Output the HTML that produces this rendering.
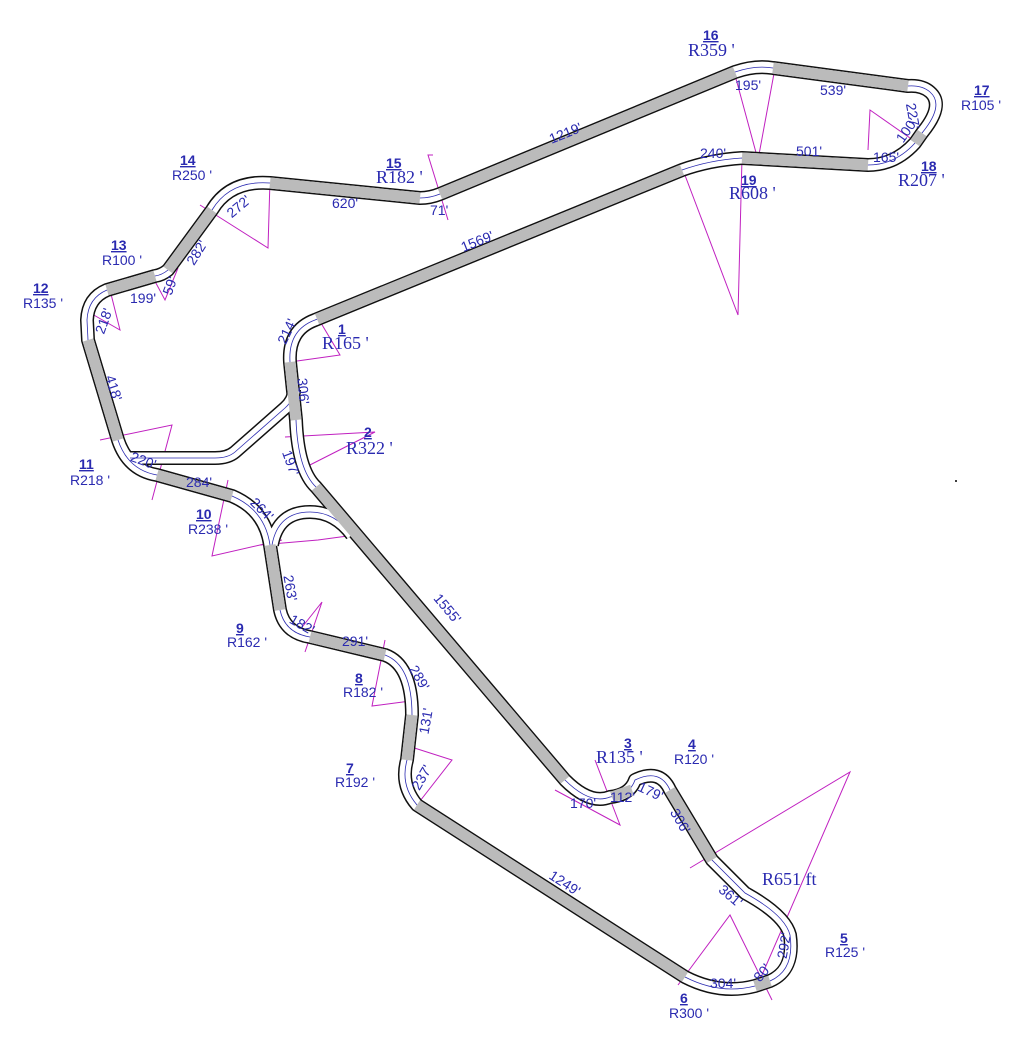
<!DOCTYPE html>
<html><head><meta charset="utf-8"><style>
html,body{margin:0;padding:0;background:#fff}
svg{display:block}
text{font-family:"Liberation Sans",sans-serif;fill:#2a2ab0;font-size:14px}
.s{font-family:"Liberation Serif",serif;font-size:18px}
.n{font-weight:bold;font-size:14px;text-decoration:underline}
</style></head><body>
<svg width="1024" height="1040" viewBox="0 0 1024 1040" xmlns="http://www.w3.org/2000/svg">
<g stroke="#c020c0" stroke-width="1" fill="none">
<polyline points="318,318 340,355 290,362"/>
<polyline points="285,437 375,432 300,470"/>
<polyline points="100,440 172,425 152,500"/>
<polyline points="228,480 212,556 282,540"/>
<polyline points="260,545 318,540 355,535"/>
<polyline points="295,636 322,602 305,652"/>
<polyline points="385,640 372,706 418,700"/>
<polyline points="405,745 452,760 413,810"/>
<polyline points="595,760 620,825 555,790"/>
<polyline points="690,868 850,772 762,975"/>
<polyline points="678,985 730,915 772,1000"/>
<polyline points="683,170 738,315 742,158"/>
<polyline points="735,75 758,160 775,68"/>
<polyline points="868,150 870,110 920,145"/>
<polyline points="433,155 428,155 448,220"/>
<polyline points="200,205 268,248 270,180"/>
<polyline points="150,272 165,300 178,268"/>
<polyline points="85,310 120,330 110,290"/>
</g>
<g fill="none" stroke-linejoin="round" stroke="#111" stroke-width="14">
<path d="M315,320 L682,170 Q710,160 742,158 L868,165 Q895,165 915,143 L922,133 Q945,105 930,92 Q922,85 908,86 L773,68 Q755,65 735,72 L440,194 Q430,198 420,198 L270,183 Q230,180 212,210 L168,270 Q162,275 155,276 L107,290 Q88,298 87,320 L88,340 L118,440 Q128,470 157,475 L232,496 Q265,510 270,545 L280,610 Q285,633 310,637 L385,655 Q412,665 412,715 L407,760 Q400,785 417,805 L685,977 Q720,995 755,986 L770,981 Q795,970 790,935 Q785,915 745,893 L712,860 L670,790 Q660,768 635,780 Q630,795 610,797 Q590,805 565,780 L316,487 Q298,470 296,420 L290,362 Q288,330 315,320 Z"/>
<path d="M294,390 Q294,400 285,408 L235,452 Q228,458 215,458 L130,458"/>
<path d="M272,545 Q278,512 310,512 Q335,512 352,535"/>
</g>
<g fill="none" stroke-linejoin="round" stroke="#fff" stroke-width="11">
<path d="M315,320 L682,170 Q710,160 742,158 L868,165 Q895,165 915,143 L922,133 Q945,105 930,92 Q922,85 908,86 L773,68 Q755,65 735,72 L440,194 Q430,198 420,198 L270,183 Q230,180 212,210 L168,270 Q162,275 155,276 L107,290 Q88,298 87,320 L88,340 L118,440 Q128,470 157,475 L232,496 Q265,510 270,545 L280,610 Q285,633 310,637 L385,655 Q412,665 412,715 L407,760 Q400,785 417,805 L685,977 Q720,995 755,986 L770,981 Q795,970 790,935 Q785,915 745,893 L712,860 L670,790 Q660,768 635,780 Q630,795 610,797 Q590,805 565,780 L316,487 Q298,470 296,420 L290,362 Q288,330 315,320 Z"/>
<path d="M294,390 Q294,400 285,408 L235,452 Q228,458 215,458 L130,458"/>
<path d="M272,545 Q278,512 310,512 Q335,512 352,535"/>
</g>
<g fill="none" stroke-linejoin="round" stroke="#2a2ab0" stroke-width="0.8">
<path d="M315,320 L682,170 Q710,160 742,158 L868,165 Q895,165 915,143 L922,133 Q945,105 930,92 Q922,85 908,86 L773,68 Q755,65 735,72 L440,194 Q430,198 420,198 L270,183 Q230,180 212,210 L168,270 Q162,275 155,276 L107,290 Q88,298 87,320 L88,340 L118,440 Q128,470 157,475 L232,496 Q265,510 270,545 L280,610 Q285,633 310,637 L385,655 Q412,665 412,715 L407,760 Q400,785 417,805 L685,977 Q720,995 755,986 L770,981 Q795,970 790,935 Q785,915 745,893 L712,860 L670,790 Q660,768 635,780 Q630,795 610,797 Q590,805 565,780 L316,487 Q298,470 296,420 L290,362 Q288,330 315,320 Z"/>
<path d="M294,390 Q294,400 285,408 L235,452 Q228,458 215,458 L130,458"/>
<path d="M272,545 Q278,512 310,512 Q335,512 352,535"/>
</g>
<g stroke="#bbb" stroke-width="11" stroke-linecap="butt">
<line x1="317" y1="319" x2="682" y2="170"/><line x1="742" y1="158" x2="868" y2="165"/>
<line x1="915" y1="143" x2="922" y2="133"/><line x1="908" y1="86" x2="773" y2="68"/>
<line x1="735" y1="72" x2="440" y2="194"/><line x1="420" y1="198" x2="270" y2="183"/>
<line x1="212" y1="210" x2="168" y2="270"/><line x1="155" y1="276" x2="107" y2="290"/>
<line x1="88" y1="340" x2="118" y2="440"/><line x1="157" y1="475" x2="232" y2="496"/>
<line x1="270" y1="545" x2="280" y2="610"/><line x1="310" y1="637" x2="385" y2="655"/>
<line x1="412" y1="715" x2="407" y2="760"/><line x1="417" y1="805" x2="685" y2="977"/>
<line x1="755" y1="986" x2="770" y2="981"/><line x1="670" y1="790" x2="712" y2="860"/>
<line x1="612" y1="797" x2="632" y2="790"/>
<line x1="565" y1="780" x2="316" y2="487"/><line x1="296" y1="420" x2="290" y2="362"/>
</g>
<text x="460" y="245" transform="rotate(-22 480 240)">1569'</text>
<text x="548" y="138" transform="rotate(-22 565 132)">1219'</text>
<text x="332" y="208">620'</text>
<text x="796" y="156">501'</text>
<text x="700" y="158">240'</text>
<text x="820" y="95">539'</text>
<text x="735" y="90">195'</text>
<text x="873" y="162">165'</text>
<text x="430" y="215">71'</text>
<text x="225" y="210" transform="rotate(-40 240 205)">272'</text>
<text x="185" y="260" transform="rotate(-58 195 255)">282'</text>
<text x="130" y="303">199'</text>
<text x="163" y="292" transform="rotate(-70 170 288)">59'</text>
<text x="92" y="332" transform="rotate(-70 100 325)">218'</text>
<text x="103" y="390" transform="rotate(72 113 385)">418'</text>
<text x="130" y="466" transform="rotate(20 145 462)">220'</text>
<text x="186" y="487">284'</text>
<text x="250" y="512" transform="rotate(45 260 507)">264'</text>
<text x="280" y="590" transform="rotate(80 290 585)">263'</text>
<text x="290" y="628" transform="rotate(30 300 622)">182'</text>
<text x="342" y="646">291'</text>
<text x="408" y="680" transform="rotate(60 418 675)">289'</text>
<text x="416" y="730" transform="rotate(-80 425 725)">131'</text>
<text x="410" y="785" transform="rotate(-60 420 780)">237'</text>
<text x="548" y="888" transform="rotate(33 565 883)">1249'</text>
<text x="710" y="988">304'</text>
<text x="754" y="980" transform="rotate(-50 760 975)">80'</text>
<text x="772" y="958" transform="rotate(-80 780 950)">292'</text>
<text x="718" y="900" transform="rotate(40 730 895)">361'</text>
<text x="668" y="825" transform="rotate(60 680 820)">306'</text>
<text x="570" y="808">170'</text>
<text x="610" y="802">112'</text>
<text x="638" y="795" transform="rotate(25 648 790)">179'</text>
<text x="428" y="615" transform="rotate(50 448 612)">1555'</text>
<text x="280" y="465" transform="rotate(70 290 460)">197'</text>
<text x="296" y="390" transform="rotate(85 303 385)">306'</text>
<text x="276" y="340" transform="rotate(-65 285 335)">214'</text>
<text x="905" y="115" transform="rotate(80 912 110)">227'</text>
<text x="896" y="140" transform="rotate(-55 903 135)">100'</text>
<text x="322" y="349" class="s">R165 '</text>
<text x="346" y="454" class="s">R322 '</text>
<text x="596" y="763" class="s">R135 '</text>
<text x="762" y="885" class="s">R651 ft</text>
<text x="729" y="199" class="s">R608 '</text>
<text x="898" y="186" class="s">R207 '</text>
<text x="688" y="56" class="s">R359 '</text>
<text x="376" y="183" class="s">R182 '</text>
<text x="674" y="764">R120 '</text>
<text x="825" y="957">R125 '</text>
<text x="669" y="1018">R300 '</text>
<text x="335" y="787">R192 '</text>
<text x="343" y="697">R182 '</text>
<text x="227" y="647">R162 '</text>
<text x="188" y="534">R238 '</text>
<text x="70" y="485">R218 '</text>
<text x="23" y="308">R135 '</text>
<text x="102" y="265">R100 '</text>
<text x="172" y="180">R250 '</text>
<text x="961" y="110">R105 '</text>
<text x="338" y="334" class="n">1</text><text x="364" y="437" class="n">2</text>
<text x="624" y="748" class="n">3</text><text x="688" y="749" class="n">4</text>
<text x="840" y="943" class="n">5</text><text x="680" y="1003" class="n">6</text>
<text x="346" y="773" class="n">7</text><text x="355" y="683" class="n">8</text>
<text x="236" y="633" class="n">9</text><text x="196" y="519" class="n">10</text>
<text x="79" y="469" class="n">11</text><text x="33" y="293" class="n">12</text>
<text x="111" y="250" class="n">13</text><text x="180" y="165" class="n">14</text>
<text x="386" y="168" class="n">15</text><text x="703" y="40" class="n">16</text>
<text x="974" y="95" class="n">17</text><text x="921" y="171" class="n">18</text>
<text x="741" y="185" class="n">19</text>
<circle cx="956" cy="481" r="1" fill="#000"/>
</svg>
</body></html>
